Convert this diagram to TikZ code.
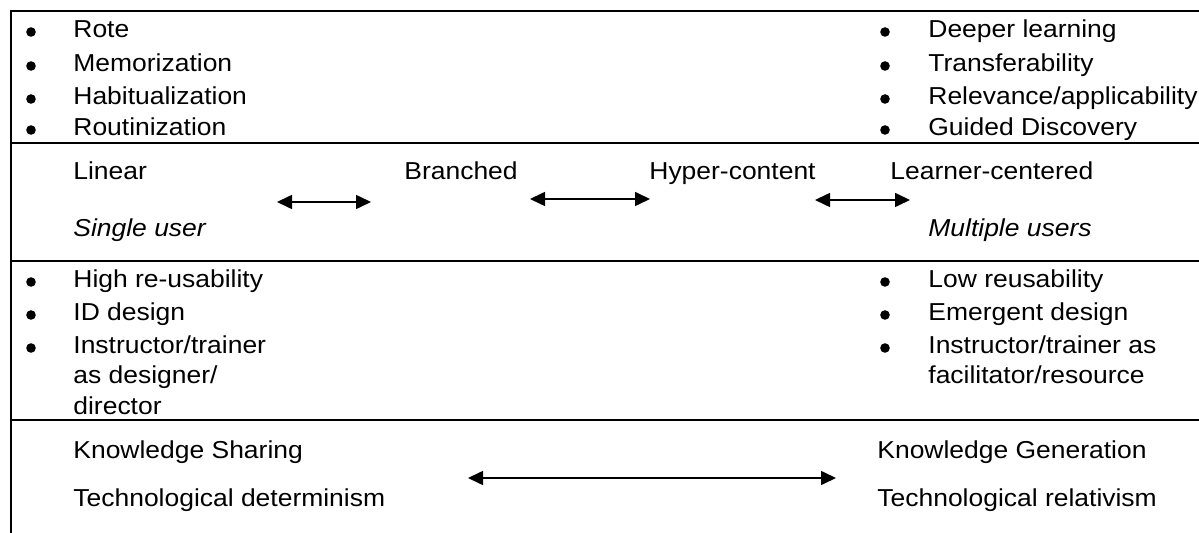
\documentclass[tikz,border=0pt]{standalone}
\usepackage{fontspec}
\setmainfont{Liberation Sans}[FakeStretch=1.08]
\usepackage{tikz}
\usetikzlibrary{arrows.meta}
\usetikzlibrary{positioning}

\tikzset{
  txt/.style={anchor=base west, inner sep=0pt, font=\fontsize{12.25pt}{14pt}\selectfont},
  dot/.style={circle, fill, inner sep=0pt, minimum size=4.8pt},
  rule/.style={line width=1pt},
  dblarrow/.style={{Triangle[length=7.5pt,width=7pt]}-{Triangle[length=7.5pt,width=7pt]}, line width=0.8pt}
}

\begin{document}
\begin{tikzpicture}[x=0.5pt, y=-0.5pt]
  \useasboundingbox (0,0) rectangle (1199,533);

  % frame and row rules
  \draw[rule] (11,533) -- (11,11) -- (1199,11);
  \foreach \y in {143,261,420}
    \draw[rule] (11,\y) -- (1199,\y);

  % row 1: bullet lists
  \foreach \y/\t/\n in {38/Rote/rote, 72/Memorization/memo,
                        105/Habitualization/habit, 136/Routinization/routine} {
    \node[txt] (\n) at (73,\y) {\t};
    \node[dot] at (31,\y-6) {};
  }
  \foreach \y/\t/\n in {38/Deeper learning/deeper, 72/Transferability/transfer,
                        105/{Relevance/applicability}/relevance, 136/Guided Discovery/guided} {
    \node[txt] (\n) at (928,\y) {\t};
    \node[dot] at (885,\y-6) {};
  }

  % row 2: continuum of designs
  \node[txt] (linear) at (73,180) {Linear};
  \node[txt] (branched) at (404,180) {Branched};
  \node[txt] (hyper) at (649,180) {Hyper-content};
  \node[txt] (learner) at (890,180) {Learner-centered};
  \node[txt, font=\fontsize{12.25pt}{14pt}\selectfont\itshape] (single) at (73,237) {Single user};
  \node[txt, font=\fontsize{12.25pt}{14pt}\selectfont\itshape] (multiple) at (928,237) {Multiple users};

  \coordinate (a1l) at (277,202);
  \coordinate (a1r) at (371,202);
  \coordinate (a2l) at (530,199);
  \coordinate (a2r) at (650,199);
  \coordinate (a3l) at (815,200);
  \coordinate (a3r) at (910,200);
  \draw[dblarrow] (a1l) -- (a1r);
  \draw[dblarrow] (a2l) -- (a2r);
  \draw[dblarrow] (a3l) -- (a3r);

  % row 3: design consequences
  \foreach \y/\t/\n in {288/High re-usability/high, 321/ID design/id,
                        354/{Instructor/trainer}/instr} {
    \node[txt] (\n) at (73,\y) {\t};
    \node[dot] at (31,\y-6) {};
  }
  \node[txt] (asdesigner) at (73,384) {as designer/};
  \node[txt] (director) at (73,415) {director};

  \foreach \y/\t/\n in {288/Low reusability/low, 321/Emergent design/emergent,
                        354/{Instructor/trainer as}/instras} {
    \node[txt] (\n) at (928,\y) {\t};
    \node[dot] at (885,\y-6) {};
  }
  \node[txt] (facil) at (928,384) {facilitator/resource};

  % row 4: knowledge
  \node[txt] (sharing) at (73,459) {Knowledge Sharing};
  \node[txt] (determ) at (73,507) {Technological determinism};
  \node[txt] (generation) at (877,459) {Knowledge Generation};
  \node[txt] (relat) at (877,507) {Technological relativism};

  \coordinate (a4l) at (468,478);
  \coordinate (a4r) at (836,478);
  \draw[dblarrow] (a4l) -- (a4r);
\end{tikzpicture}
\end{document}
